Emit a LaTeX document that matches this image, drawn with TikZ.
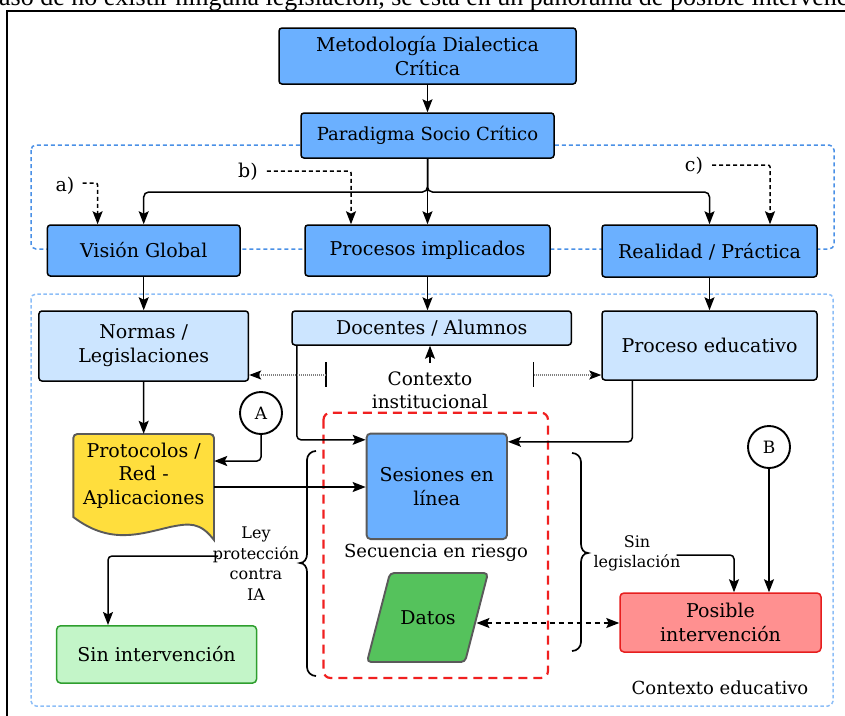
\documentclass[tikz,border=0pt]{standalone}
\usepackage{fontspec}
\setmainfont{DejaVu Serif}
\newfontfamily\capfont{Liberation Serif}
\usetikzlibrary{arrows.meta}
\definecolor{bluebox}{HTML}{6BB0FF}
\definecolor{lightblue}{HTML}{CCE5FF}
\definecolor{yelbox}{HTML}{FFDE3D}
\definecolor{grnbox}{HTML}{55C25C}
\definecolor{lgrn}{HTML}{C3F5C8}
\definecolor{lgrnb}{HTML}{2E9E2E}
\definecolor{pinkbox}{HTML}{FF9090}
\definecolor{redb}{HTML}{E61E1E}
\definecolor{dashblue}{HTML}{4A90E6}
\definecolor{dashlblue}{HTML}{8DBEF7}
\definecolor{reddash}{HTML}{F02020}
\definecolor{grayb}{HTML}{5A5A5A}
\tikzset{
  txt/.style={font=\fontsize{19}{24}\selectfont, align=center, inner sep=0pt},
  smalltxt/.style={font=\fontsize{16}{20.5}\selectfont, align=center, inner sep=0pt},
  box/.style={txt, draw=black, line width=1.5pt, rounded corners=3pt, fill=bluebox},
  lbox/.style={txt, draw=black, line width=1.5pt, rounded corners=3pt, fill=lightblue},
  gbox/.style={txt, draw=grayb, line width=1.9pt, rounded corners=4pt},
  circ/.style={circle, draw=black, line width=1.9pt, fill=white, minimum size=42pt, inner sep=0pt, font=\fontsize{17}{20}\selectfont},
  conn/.style={draw=black, line width=1.5pt, -{Stealth[length=13pt,width=10pt,inset=2.5pt]}},
  dconn/.style={conn, dash pattern=on 4pt off 3pt},
  ddconn/.style={draw=black, line width=1.5pt, dash pattern=on 5pt off 4pt, {Stealth[length=13pt,width=10pt,inset=2.5pt]}-{Stealth[length=13pt,width=10pt,inset=2.5pt]}},
  dotconn/.style={draw=gray, line width=1.3pt, dash pattern=on 1pt off 1pt, -{Stealth[length=12pt,width=9pt,inset=2.5pt,color=black]}},
  bracestyle/.style={draw=black, line width=1.7pt},
  ctn/.style={line width=1.5pt, rounded corners=5pt}
}
\begin{document}
\begin{tikzpicture}[x=1pt,y=-1pt]
\useasboundingbox (0,0) rectangle (845,715);
% caption (cut) and frame
\node[anchor=base west, inner sep=0pt, font=\capfont\fontsize{26}{30}\selectfont] (cap) at (-1,5.5) {aso de no existir ninguna legislación, se está en un panorama de posible intervención};
\draw[line width=2pt] (7,716) -- (7,11) -- (846,11);
% containers
\draw[ctn, draw=dashblue, dash pattern=on 4pt off 3pt] (31,145) rectangle (834,249);
\draw[ctn, draw=dashlblue, dash pattern=on 3.5pt off 2.5pt] (31,294) rectangle (833,706);
\draw[line width=2.2pt, draw=reddash, rounded corners=7pt, dash pattern=on 9pt off 6pt] (323.5,412.7) rectangle (548,678);
% top nodes
\node[box, minimum width=297pt, minimum height=56pt] (meto) at (427.5,56) {Metodología Dialectica\\Crítica};
\node[box, minimum width=253pt, minimum height=45pt, font=\fontsize{18}{22}\selectfont] (para) at (427.5,135.5) {Paradigma Socio Crítico};
\node[box, minimum width=192.6pt, minimum height=51pt] (vis) at (143.7,250.5) {Visión Global};
\node[box, minimum width=215pt, minimum height=52pt, text depth=-4pt] (real) at (709.5,251) {Realidad / Práctica};
\node[box, minimum width=245pt, minimum height=51pt] (proc) at (427.5,250.5) {Procesos implicados};
\node[txt, font=\fontsize{19}{22}\selectfont] (la) at (65,186) {a)};
\node[txt, font=\fontsize{19}{22}\selectfont] (lb) at (248,172) {b)};
\node[txt, font=\fontsize{19}{22}\selectfont] (lc) at (694,166) {c)};
% lower nodes
\node[lbox, minimum width=209.5pt, minimum height=70pt] (norm) at (143.7,346) {Normas /\\Legislaciones};
\node[lbox, minimum width=279.4pt, minimum height=34pt] (doc) at (431.7,328) {Docentes / Alumnos};
\node[lbox, minimum width=215pt, minimum height=69pt] (pedu) at (709.5,345.5) {Proceso educativo};
\node[txt, font=\fontsize{18.5}{22.7}\selectfont] (ctx) at (430,390) {Contexto\\institucional};
\node[circ] (A) at (261,413) {A};
\node[circ] (B) at (769,447) {B};
% protocolos document shape
\node[minimum width=140.7pt, minimum height=106pt, inner sep=0pt] (prot) at (143.65,487) {};
\draw[line width=1.9pt, draw=grayb, fill=yelbox, rounded corners=4pt] (73.3,517) -- (73.3,434) -- (214,434) [sharp corners] -- (214,540) .. controls (200,522) and (190,523) .. (170,527) .. controls (140,534) and (110,545) .. (73.3,517) -- cycle;
\node[txt, font=\fontsize{19}{23.7}\selectfont] (prottext) at (143.7,475.5) {Protocolos /\\Red -\\Aplicaciones};
\node[gbox, fill=bluebox, minimum width=140.4pt, minimum height=105.5pt] (ses) at (436.8,486.3) {Sesiones en\\línea};
\node[txt, font=\fontsize{18}{22}\selectfont] (sec) at (436,553) {Secuencia en riesgo};
% datos parallelogram
\draw[line width=1.9pt, draw=grayb, fill=grnbox, rounded corners=4pt] (390,573) -- (488,573) -- (465,662) -- (367,662) -- cycle;
\node[txt] (datos) at (428,618) {Datos};
\coordinate (datR) at (476.5,623);
\node[smalltxt] (ley) at (256,563.5) {Ley\\protección\\contra\\IA};
\node[smalltxt, font=\fontsize{16}{20}\selectfont] (sinleg) at (637,553) {Sin\\legislación};
\node[txt, draw=redb, line width=1.5pt, rounded corners=4pt, fill=pinkbox, minimum width=201pt, minimum height=59pt, font=\fontsize{19}{23.3}\selectfont] (posi) at (720.5,622.5) {Posible\\intervención};
\node[txt, draw=lgrnb, line width=1.5pt, rounded corners=4pt, fill=lgrn, minimum width=200pt, minimum height=57.3pt] (sinint) at (156.6,654.4) {Sin intervención};
\node[txt, font=\fontsize{18}{22}\selectfont] (ctxe) at (720,688) {Contexto educativo};
% braces
\draw[bracestyle] (316,451) to[out=180,in=90] (307,460) -- (307,554) to[out=-90,in=0] (300,563) to[out=0,in=90] (307,572) -- (307,667) to[out=-90,in=180] (316,676);
\draw[bracestyle] (572,453) to[out=0,in=90] (581,462) -- (581,544) to[out=-90,in=180] (588,553) to[out=180,in=90] (581,562) -- (581,642) to[out=-90,in=0] (572,651);
% connectors top
\coordinate (jn) at (427.5,192);
\draw[conn] (meto.south) -- (para.north);
\draw[conn] (para.south) -- (proc.north);
\draw[conn, rounded corners=5pt] (para.south) -- (jn) -| (vis.north);
\draw[conn, rounded corners=5pt] (para.south) -- (jn) -| (real.north);
\draw[dconn, rounded corners=2pt] ([xshift=8pt,yshift=3pt]la.east) -| ([xshift=-46.1pt]vis.north);
\draw[dconn, rounded corners=2pt] ([xshift=9pt,yshift=1pt]lb.east) -| ([xshift=-76.5pt]proc.north);
\draw[dconn, rounded corners=2pt] ([xshift=9pt,yshift=1pt]lc.east) -| ([xshift=60.5pt]real.north);
% connectors lower
\draw[conn] (vis.south) -- (norm.north);
\draw[conn] (proc.south) -- (proc.south |- doc.north);
\draw[conn] (real.south) -- (pedu.north);
\draw[conn, rounded corners=4pt] ([xshift=5.6pt]doc.south west) |- ([yshift=-7.2pt]ses.north west);
\coordinate (ctxtop) at (430,363);
\draw[conn] (ctxtop) -- (ctxtop |- doc.south);
\coordinate (tl) at (326,375);
\coordinate (tr) at (533.7,375);
\draw[line width=1.3pt] ([yshift=13pt]tl) -- ([yshift=-12pt]tl);
\draw[line width=1.3pt] ([yshift=13pt]tr) -- ([yshift=-12pt]tr);
\draw[dotconn] (tl) -- (tl -| norm.east);
\draw[dotconn] (tr) -- (tr -| pedu.west);
\draw[conn, rounded corners=4pt] ([xshift=31pt]pedu.south west) |- ([yshift=-9.2pt]ses.north east);
\draw[conn, rounded corners=4pt] (A.south) |- ([yshift=26pt]prot.east);
\draw[conn] (norm.south) -- (prot.north);
\draw[conn] (prot.east) -- (prot.east -| ses.west);
\draw[conn, rounded corners=4pt] ([xshift=-38pt,yshift=7.5pt]ley.center) -| ([xshift=-48.6pt]sinint.north);
\draw[conn] (B.south) -- (B.south |- posi.north);
\draw[conn, rounded corners=4pt] ([xshift=39.5pt,yshift=-2pt]sinleg.center) -| ([xshift=13.5pt]posi.north);
\draw[ddconn] (datR) -- (datR -| posi.west);
\end{tikzpicture}
\end{document}
